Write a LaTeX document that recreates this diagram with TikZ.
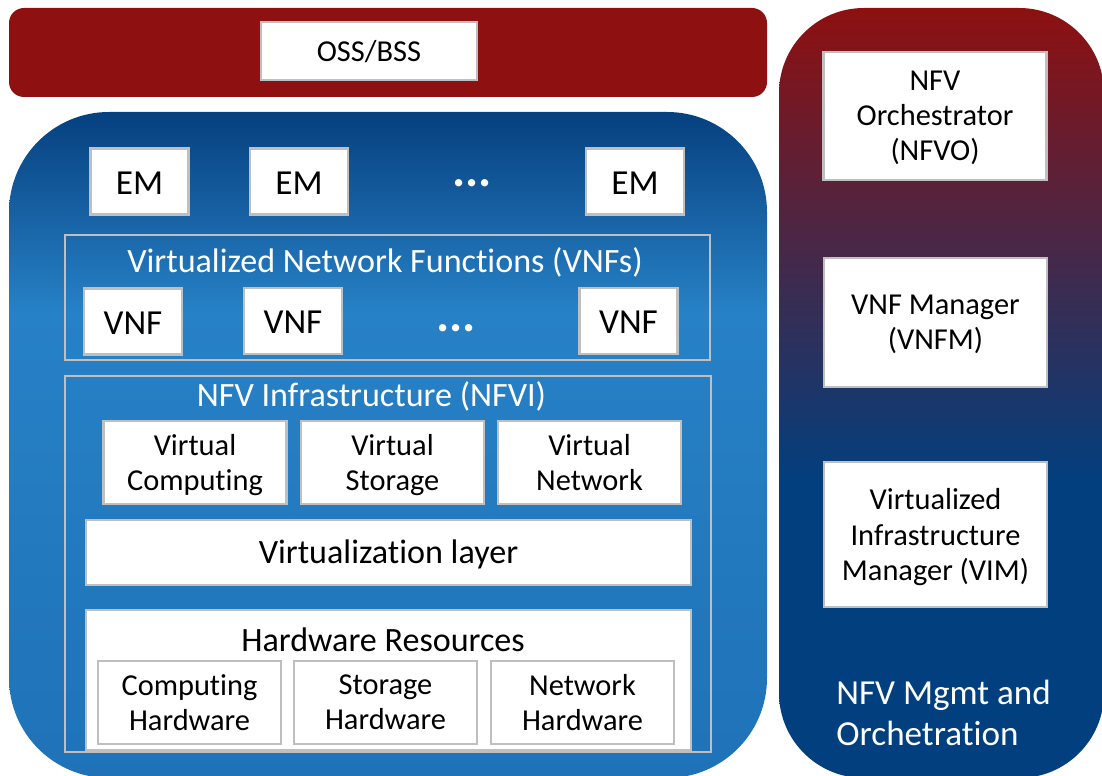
\documentclass[tikz,border=0pt]{standalone}
\usepackage{fontspec}
\setmainfont[Ligatures=NoCommon]{Carlito}
\usetikzlibrary{positioning}

\definecolor{ossred}{HTML}{8E1010}
\definecolor{mgmtblue}{HTML}{013F7F}
\definecolor{deepblue}{HTML}{06407F}
\definecolor{midblue}{HTML}{2781C6}
\definecolor{lowblue}{HTML}{1F72B7}
\definecolor{framegray}{HTML}{BFBFBF}

% shadings: inner 25bp..75bp covers the path
\pgfdeclareverticalshading{mgmtshade}{100bp}{color(0bp)=(mgmtblue); color(44bp)=(mgmtblue); color(75bp)=(ossred); color(100bp)=(ossred)}
\pgfdeclareverticalshading{infrashade}{100bp}{color(0bp)=(lowblue); color(25bp)=(lowblue); color(60bp)=(midblue); color(75bp)=(deepblue); color(100bp)=(deepblue)}

% fixed struts so one-line box texts sit at the same height
\newcommand{\boxstrut}{\rule[-5.8pt]{0pt}{23.8pt}}
\newcommand{\emstrut}{\rule[-7.1pt]{0pt}{28.5pt}}

\tikzset{
  box/.style={draw=framegray, line width=1.6pt, fill=white, inner sep=0pt, align=center,
    font=\fontsize{17.3}{20}\selectfont, execute at begin node=\boxstrut, execute at end node=\boxstrut},
  embox/.style={box, minimum width=1.96cm, minimum height=1.32cm, font=\fontsize{20}{23}\selectfont,
    execute at begin node=\emstrut, execute at end node=\boxstrut},
  vbox/.style={box, minimum width=3.66cm, minimum height=1.66cm, text depth=0pt},
  mgmtbox/.style={box, minimum width=4.46cm, text depth=0pt},
  frame/.style={draw=framegray, line width=1.6pt, inner sep=0pt},
  title/.style={text=white, anchor=base, inner sep=0pt, font=\fontsize{19.4}{22}\selectfont},
  dots/.style={text=white, inner sep=0pt, font=\bfseries\fontsize{28}{28}\selectfont}
}

\begin{document}
\begin{tikzpicture}[x=0.02cm, y=-0.02cm]
  \useasboundingbox (0,0) rectangle (1102,776);

  % backgrounds
  \fill[ossred, rounded corners=0.3cm] (9,8) rectangle (767,97);
  \path[shading=infrashade, rounded corners=2cm] (9,112) rectangle (767,778);
  \path[shading=mgmtshade, rounded corners=1.7cm] (779,8) rectangle (1104,778);

  % OSS/BSS
  \node[box, minimum width=4.32cm, minimum height=1.16cm] (oss) at (369,51) {OSS/BSS};

  % element managers
  \node[embox] (em1) at (139.5,181.5) {EM};
  \node[embox] (em2) at (299,181.5) {EM};
  \node[dots] (emdots) at (472,183) {...};
  \node[embox] (em3) at (635,181.5) {EM};

  % VNFs
  \node[frame, minimum width=12.9cm, minimum height=2.5cm] (vnfs) at (387.5,297.5) {};
  \node[title] (vnfstitle) at (385,273) {Virtualized Network Functions (VNFs)};
  \node[embox] (vnf1) at (133,321.5) {VNF};
  \node[embox] (vnf2) at (293,321) {VNF};
  \node[dots] (vnfdots) at (456,328) {...};
  \node[embox] (vnf3) at (628.5,321) {VNF};

  % NFVI
  \node[frame, minimum width=12.92cm, minimum height=7.52cm] (nfvi) at (388,564) {};
  \node[title] (nfvititle) at (371.5,407) {NFV Infrastructure (NFVI)};
  \node[vbox] (vcomp) at (195,462.5) {Virtual\\Computing};
  \node[vbox] (vstor) at (392.5,462.5) {Virtual\\Storage};
  \node[vbox] (vnet) at (589.5,462.5) {Virtual\\Network};
  \node[box, minimum width=12.1cm, minimum height=1.3cm, font=\fontsize{19.4}{22}\selectfont]
    (virtlayer) at (388.5,552.5) {Virtualization layer};
  \node[box, minimum width=12.1cm, minimum height=2.8cm] (hw) at (388.5,680) {};
  \node[title, text=black] (hwtitle) at (383,651) {Hardware Resources};
  \node[vbox] (hcomp) at (189.5,702.5) {Computing\\Hardware};
  \node[vbox] (hstor) at (385.5,702.5) {Storage\\Hardware};
  \node[vbox] (hnet) at (582.5,702.5) {Network\\Hardware};

  % management and orchestration
  \node[mgmtbox, minimum height=2.56cm] (nfvo) at (935,116) {NFV\\Orchestrator\\(NFVO)};
  \node[mgmtbox, minimum height=2.58cm] (vnfm) at (935.5,322.5) {VNF Manager\\(VNFM)};
  \node[mgmtbox, minimum height=2.9cm] (vim) at (935.5,534.5) {Virtualized\\Infrastructure\\Manager (VIM)};
  \node[text=white, anchor=base west, align=left, inner sep=0pt,
    font=\fontsize{20}{23.2}\selectfont] (mano) at (836,745) {NFV Mgmt and\\Orchetration};
\end{tikzpicture}
\end{document}
